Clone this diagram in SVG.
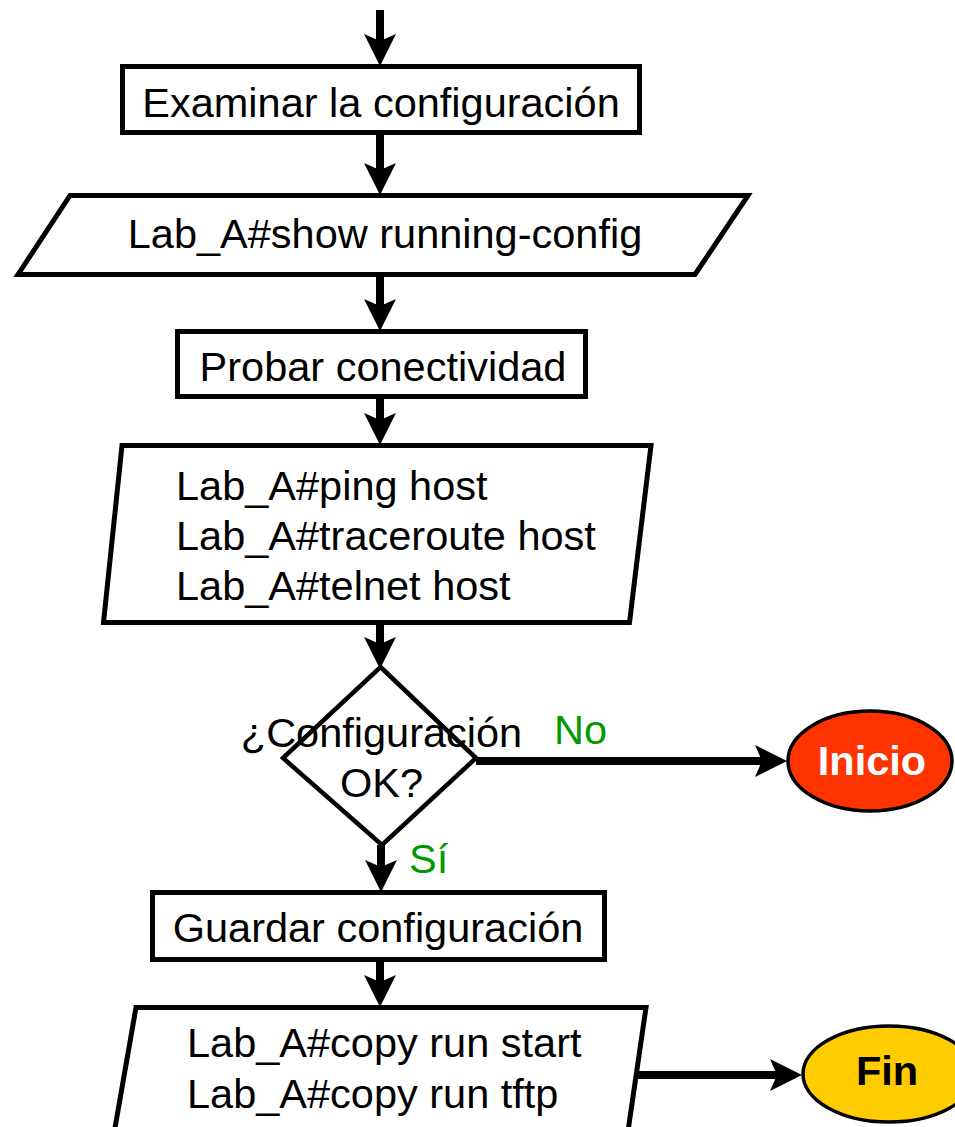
<svg xmlns="http://www.w3.org/2000/svg" width="955" height="1127" viewBox="0 0 955 1127">
  <style>
    text { font-family: "Liberation Sans", Arial, sans-serif; font-size: 41.5px; fill: #000; }
    .c { text-anchor: middle; }
    .box { fill: #fff; stroke: #000; stroke-width: 5; }
    .io { fill: #fff; stroke: #000; stroke-width: 5; stroke-linejoin: miter; }
    .dec { fill: #fff; stroke: #000; stroke-width: 4.5; }
    .term { stroke: #000; stroke-width: 3.5; }
    .lbl { fill: #009900; }
    .bold { font-weight: bold; }
    .flow { fill: none; stroke: #000; stroke-width: 8; marker-end: url(#head); }
  </style>
  <defs>
    <!-- notched (stealth) arrowhead, tip 12px beyond the line end -->
    <marker id="head" markerUnits="userSpaceOnUse" viewBox="0 0 32 32" markerWidth="32" markerHeight="32" refX="20" refY="16" orient="auto">
      <path d="M0,0 L32,16 L0,32 L7,16 Z" fill="#000"/>
    </marker>
  </defs>

  <!-- connectors -->
  <g id="connectors">
    <path class="flow" d="M380,10 V54"/>
    <path class="flow" d="M380,135 V183"/>
    <path class="flow" d="M380,277 V319"/>
    <path class="flow" d="M380,399 V433"/>
    <path class="flow" d="M380,625 V657"/>
    <path class="flow" d="M476,761 H775"/>
    <path class="flow" d="M381,845 V880"/>
    <path class="flow" d="M380,962 V995"/>
    <path class="flow" d="M636,1075 H790"/>
  </g>

  <g id="examinar">
    <rect class="box" x="122.5" y="66.5" width="517" height="66"/>
    <text class="c" x="381" y="117">Examinar la configuración</text>
  </g>

  <g id="show-run">
    <polygon class="io" points="70,195.5 748,195.5 695,274.5 18,274.5"/>
    <text class="c" x="385" y="248">Lab_A#show running-config</text>
  </g>

  <g id="probar">
    <rect class="box" x="177.5" y="331.5" width="408" height="65"/>
    <text class="c" x="383" y="381">Probar conectividad</text>
  </g>

  <g id="pruebas">
    <polygon class="io" points="122,445.5 651,445.5 629.5,622.5 103.5,622.5"/>
    <text x="176" y="500">Lab_A#ping host</text>
    <text x="176" y="550">Lab_A#traceroute host</text>
    <text x="176" y="600">Lab_A#telnet host</text>
  </g>

  <g id="decision">
    <polygon class="dec" points="380.5,667 476,758 382,845 283,758"/>
    <text class="c" x="381.5" y="747">¿Configuración</text>
    <text class="c" x="381.5" y="797">OK?</text>
    <text class="lbl" x="554" y="744">No</text>
    <text class="lbl" x="409" y="873">Sí</text>
  </g>

  <g id="inicio">
    <ellipse class="term" cx="870" cy="761" rx="82" ry="50" fill="#FF3300"/>
    <text class="c bold" x="872" y="775" fill="#fff" style="fill:#fff">Inicio</text>
  </g>

  <g id="guardar">
    <rect class="box" x="152.5" y="892.5" width="452" height="67"/>
    <text class="c" x="378" y="942">Guardar configuración</text>
  </g>

  <g id="copiar">
    <polygon class="io" points="136,1007.5 646,1007.5 626,1145 112,1145"/>
    <text x="187" y="1057">Lab_A#copy run start</text>
    <text x="187" y="1108">Lab_A#copy run tftp</text>
  </g>

  <g id="fin">
    <ellipse class="term" cx="889" cy="1074" rx="86" ry="48" fill="#FFCC00"/>
    <text class="c bold" x="887" y="1085">Fin</text>
  </g>
</svg>
